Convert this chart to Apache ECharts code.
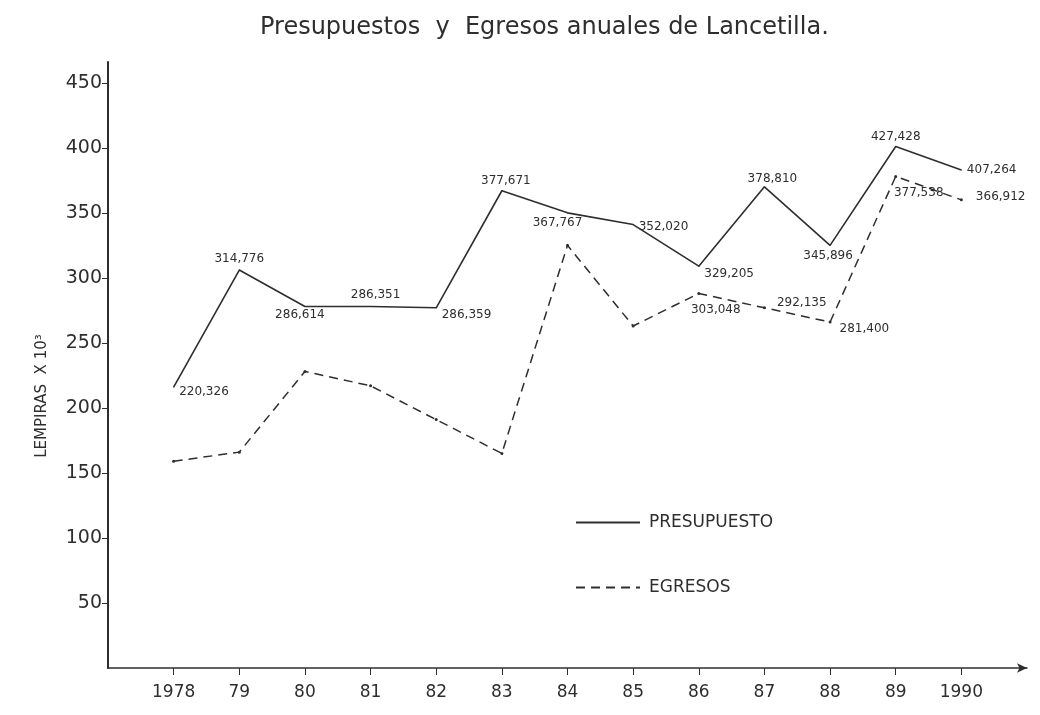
<!DOCTYPE html>
<html>
<head>
<meta charset="utf-8">
<title>Presupuestos y Egresos anuales de Lancetilla</title>
<script src="https://cdn.jsdelivr.net/npm/echarts@6.0.0/dist/echarts.min.js"></script>
<style>
    html, body { margin: 0; padding: 0; background: #fff; }
    #main { width: 1040px; height: 715px; }
</style>
</head>
<body>
<div id="main"></div>
<script>
// datos (miles de lempiras)
var years = [1978, 1979, 1980, 1981, 1982, 1983, 1984, 1985, 1986, 1987, 1988, 1989, 1990];
var yearLabels = ['1978', '79', '80', '81', '82', '83', '84', '85', '86', '87', '88', '89', '1990'];
var presupuesto = [216, 306, 278, 278, 277, 367, 350, 341, 309, 370, 325, 401, 383];
var egresos = [159, 166, 228, 217, 191, 165, 325, 263, 288, 277, 266, 378, 360];
// cifras escritas junto a cada punto
var presupuestoText = ['220,326', '314,776', '286,614', '286,351', '286,359', '377,671', '367,767',
    '352,020', '329,205', '378,810', '345,896', '427,428', '407,264'];
var egresosText = ['', '', '', '', '', '', '', '', '303,048', '292,135', '281,400', '377,538', '366,912'];
var yTicks = [50, 100, 150, 200, 250, 300, 350, 400, 450];
var yTickLabels = ['50', '100', '150', '200', '250', '300', '350', '400', '450'];

(function() {
    var ink = '#2e2e2e';
    var font = 'DejaVu Sans';

    // donde va cada cifra respecto al punto
    var presPos = ['right', 'top', 'bottom', 'top', 'right', 'top', 'bottom', 'right', 'right', 'top', 'bottom', 'top', 'right'];
    var presOff = [[0, 5], [0, 0], [-5, -3], [5, 0], [0, 7], [4, 2], [-10, -1], [0, 2], [0, 8], [8, 4], [-2, -1], [0, 2], [0, 0]];
    var egrPos = ['right', 'right', 'right', 'right', 'right', 'right', 'right', 'right', 'bottom', 'right', 'right', 'bottom', 'right'];
    var egrOff = [[0, 0], [0, 0], [0, 0], [0, 0], [0, 0], [0, 0], [0, 0], [0, 0], [17, 4], [6, -5], [3, 7], [23, 4], [8, -3]];

    var build = function(values, texts, pos, off) {
        return values.map(function(v, i) {
            return {
                value: [years[i], v],
                label: { show: texts[i] !== '', formatter: texts[i], position: pos[i], offset: off[i] }
            };
        });
    };

    var myechart = echarts.init(document.getElementById('main'));
    var option = {
        backgroundColor: '#fff',
        animation: false,
        textStyle: { fontFamily: font, color: ink },
        title: {
            text: 'Presupuestos  y  Egresos anuales de Lancetilla.',
            left: 255,
            top: 11,
            textStyle: { fontFamily: font, fontSize: 24, fontWeight: 'normal', color: ink }
        },
        legend: {
            orient: 'vertical',
            left: 570,
            top: 509,
            itemWidth: 64,
            itemHeight: 14,
            itemGap: 48,
            itemStyle: { opacity: 0 },
            textStyle: { fontFamily: font, fontSize: 17, color: ink, padding: [0, 0, 0, 4] },
            data: ['PRESUPUESTO', 'EGRESOS']
        },
        grid: {
            left: 108,
            right: 13,
            top: 62,
            bottom: 47
        },
        xAxis: {
            type: 'value',
            min: 1977,
            max: 1991,
            interval: 1,
            splitLine: { show: false },
            axisLine: { lineStyle: { color: ink, width: 1.5 }, symbol: ['none', 'arrow'], symbolSize: [7, 10] },
            axisTick: { customValues: years, length: 7, lineStyle: { color: ink } },
            axisLabel: {
                customValues: years,
                margin: 16,
                fontSize: 17,
                color: ink,
                formatter: function(v) { return yearLabels[years.indexOf(v)]; }
            }
        },
        yAxis: {
            type: 'value',
            min: 0,
            max: 466,
            interval: 50,
            splitLine: { show: false },
            name: 'LEMPIRAS  X 10³',
            nameLocation: 'middle',
            nameGap: 58,
            nameTextStyle: { fontFamily: font, fontSize: 15, color: ink, padding: [0, 62, 0, 0] },
            axisLine: { show: true, lineStyle: { color: ink, width: 2 } },
            axisTick: { show: true, customValues: yTicks, length: 6, lineStyle: { color: ink } },
            axisLabel: {
                customValues: yTicks,
                margin: 6,
                fontSize: 19,
                color: ink,
                formatter: function(v) { return yTickLabels[yTicks.indexOf(v)]; }
            }
        },
        series: [
            {
                name: 'PRESUPUESTO',
                type: 'line',
                symbol: 'circle',
                symbolSize: 1,
                showSymbol: true,
                lineStyle: { color: ink, width: 1.6 },
                itemStyle: { color: ink },
                label: { fontFamily: font, fontSize: 12, color: ink, distance: 5 },
                data: build(presupuesto, presupuestoText, presPos, presOff)
            },
            {
                name: 'EGRESOS',
                type: 'line',
                symbol: 'circle',
                symbolSize: 3,
                lineStyle: { color: ink, width: 1.5, type: [9, 6] },
                itemStyle: { color: ink },
                label: { fontFamily: font, fontSize: 12, color: ink, distance: 5 },
                data: build(egresos, egresosText, egrPos, egrOff)
            }
        ]
    };
    myechart.setOption(option);
})();
</script>
</body>
</html>
